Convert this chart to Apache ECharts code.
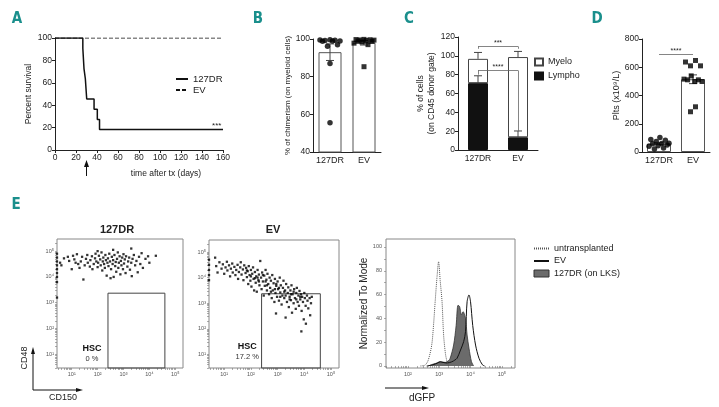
<!DOCTYPE html>
<html><head><meta charset="utf-8">
<script src="https://cdn.jsdelivr.net/npm/echarts@6/dist/echarts.min.js"></script>
<style>html,body{margin:0;padding:0;background:#fff}#c{width:719px;height:407px}</style>
</head><body><div id="c"></div>
<script>
// ---------------- DATA ----------------
// A: Kaplan-Meier survival
const survDays127DR = [0, 26.5, 27.6, 28.9, 30.2, 37.2, 40.3, 42.4, 160];
const surv127DR     = [100, 90.9, 72.7, 63.6, 45.5, 36.4, 27.3, 18.2, 18.2];
const survDaysEV    = [0, 160];
const survEV        = [100, 100];

// groups
const groups = ['127DR', 'EV'];

// B: % chimerism on myeloid cells
const chim127DR = [99.6, 99.5, 99.4, 99.2, 99.0, 98.9, 98.8, 97.0, 96.2, 87.0, 55.5];
const chimEV    = [99.8, 99.7, 99.6, 99.5, 99.4, 99.2, 99.0, 98.8, 98.4, 97.8, 97.0, 85.3];
const chimMean  = [93.0, 98.0];
const chimSem   = [4.4, 1.2];

// C: % of cells on CD45 donor gate
const lymphoMean = [71.0, 13.5];
const lymphoSem  = [7.8, 6.7];
const myeloMean  = [25.8, 85.2];
const myeloSem   = [6.8, 6.0];

// D: platelets (x10^9/L)
const plts127DR = [102, 88, 83, 75, 62, 60, 58, 50, 45, 40, 28, 22];
const pltsEV    = [648, 637, 610, 610, 539, 516, 511, 511, 499, 499, 320, 285];
const pltsMean  = [59, 515];
const pltsSem   = [7, 31];

// E: flow plots, values are log10(CD150), log10(CD48)
const flow127DR = [[0.55,4.55],[0.6,4.45],[0.7,4.72],[0.85,4.78],[0.9,4.62],[1.05,4.82],[1.1,4.68],[1.2,4.88],[1.25,4.5],[1.3,4.35],[1.35,4.6],[1.4,4.78],[1.45,3.9],[1.5,4.45],[1.55,4.7],[1.6,4.85],[1.62,4.55],[1.7,4.4],[1.72,4.65],[1.78,4.8],[1.8,4.3],[1.85,4.5],[1.9,4.72],[1.92,4.9],[1.95,4.6],[2.0,4.38],[2.02,4.55],[2.05,4.82],[2.1,4.68],[2.12,4.45],[2.15,4.95],[2.18,4.25],[2.2,4.6],[2.22,4.75],[2.25,4.5],[2.28,4.35],[2.3,4.85],[2.32,4.65],[2.35,4.05],[2.38,4.55],[2.4,4.72],[2.42,4.42],[2.45,4.9],[2.48,4.6],[2.5,3.95],[2.52,4.3],[2.55,4.78],[2.58,4.5],[2.6,4.65],[2.62,4.0],[2.65,4.85],[2.68,4.42],[2.7,4.58],[2.72,4.2],[2.75,4.7],[2.78,4.95],[2.8,4.35],[2.82,4.55],[2.85,4.8],[2.88,4.1],[2.9,4.62],[2.92,4.45],[2.95,4.75],[2.98,4.3],[3.0,4.88],[3.02,4.52],[3.05,4.68],[3.08,4.15],[3.1,4.8],[3.15,4.4],[3.18,4.6],[3.22,4.75],[3.25,4.28],[3.3,4.55],[3.32,4.03],[3.35,4.7],[3.4,4.85],[3.45,4.45],[3.5,4.62],[3.55,4.18],[3.6,4.78],[3.65,4.5],[3.7,4.92],[3.75,4.35],[3.85,4.7],[3.95,4.8],[4.0,4.55],[4.25,4.82],[1.0,4.3],[1.15,4.55],[2.0,5.0],[2.6,5.05],[3.3,5.1],[0.43,4.9],[0.43,4.75],[0.43,4.6],[0.43,4.45],[0.43,4.3],[0.43,4.15],[0.43,4.0],[0.43,3.8],[0.43,3.2]];
const flowEV = [[0.66,4.78],[0.7,4.45],[0.75,4.2],[0.82,4.6],[0.9,4.35],[0.95,4.52],[1.0,4.15],[1.05,4.4],[1.1,4.62],[1.12,4.28],[1.18,4.48],[1.22,4.05],[1.25,4.35],[1.3,4.55],[1.32,4.2],[1.38,4.42],[1.42,4.1],[1.45,4.3],[1.5,4.5],[1.52,3.95],[1.55,4.22],[1.6,4.4],[1.62,4.6],[1.65,4.12],[1.7,4.32],[1.72,3.9],[1.75,4.48],[1.8,4.18],[1.82,4.38],[1.85,4.02],[1.88,4.25],[1.9,3.75],[1.92,4.45],[1.95,4.1],[1.98,3.88],[2.0,4.3],[2.02,3.65],[2.05,4.15],[2.08,4.4],[2.1,3.95],[2.12,3.5],[2.15,4.22],[2.18,3.8],[2.2,4.05],[2.22,3.45],[2.25,4.3],[2.28,3.9],[2.3,4.12],[2.32,3.7],[2.35,4.65],[2.38,4.0],[2.4,3.55],[2.42,4.2],[2.45,3.85],[2.48,3.3],[2.5,4.08],[2.52,3.68],[2.55,4.3],[2.58,3.92],[2.6,3.5],[2.62,4.15],[2.65,3.75],[2.68,3.35],[2.7,4.0],[2.72,3.6],[2.75,3.88],[2.78,3.2],[2.8,4.1],[2.82,3.5],[2.85,3.78],[2.88,3.05],[2.9,3.95],[2.92,3.4],[2.94,2.6],[2.95,3.68],[2.98,3.25],[3.0,3.85],[3.02,3.55],[3.05,3.1],[3.08,4.0],[3.1,3.42],[3.12,3.7],[3.15,2.95],[3.18,3.3],[3.2,3.6],[3.22,3.88],[3.25,3.2],[3.28,3.5],[3.3,2.44],[3.32,3.75],[3.35,3.05],[3.38,3.4],[3.4,3.62],[3.42,2.85],[3.45,3.25],[3.48,3.5],[3.5,3.12],[3.52,3.7],[3.54,2.63],[3.56,3.35],[3.6,3.0],[3.62,3.55],[3.65,3.2],[3.68,2.78],[3.7,3.4],[3.72,3.6],[3.75,3.05],[3.78,3.3],[3.8,2.9],[3.82,3.48],[3.85,3.15],[3.88,3.35],[3.89,1.9],[3.9,2.7],[3.92,3.25],[3.95,3.05],[3.98,2.37],[4.0,3.4],[4.02,3.2],[4.05,2.9],[4.06,2.2],[4.1,3.3],[4.12,3.1],[4.15,2.8],[4.2,3.2],[4.22,2.53],[4.25,3.0],[4.28,3.25],[2.0,4.05],[2.3,3.85],[2.6,3.7],[2.9,3.55],[3.1,3.25],[3.3,3.3],[3.5,3.35],[3.7,3.15],[2.75,3.45],[3.05,3.6],[2.45,4.1],[2.15,3.98],[1.85,4.28],[3.6,3.45],[3.85,3.25],[3.45,3.15],[3.25,3.45],[2.95,3.75],[2.55,3.85],[2.25,4.0],[0.43,4.7],[0.43,4.5],[0.43,4.3],[0.43,4.1],[0.43,3.9]];
const hscGate   = [[2.4, 0.47], [4.6, 3.37]];
const hscPct    = ['0 %', '17.2 %'];

// E: dGFP histograms, [log10(dGFP), % of mode]
const histUntransplanted = [[2.4,0],[2.55,0.8],[2.65,5],[2.76,17.6],[2.82,35],[2.87,54],[2.93,75],[2.98,87.6],[3.03,72],[3.09,54],[3.14,26],[3.2,10],[3.25,3.6],[3.3,0]];
const histEV = [[2.6,0],[2.8,1],[2.95,2.5],[3.03,3.5],[3.12,3],[3.25,2.5],[3.4,3.5],[3.5,5],[3.57,6.5],[3.68,13.4],[3.78,20.4],[3.84,28.8],[3.89,54],[3.95,59.7],[4.0,54],[4.07,34],[4.16,17.6],[4.27,6.5],[4.38,1],[4.45,0]];
const hist127DR = [[2.65,0],[2.8,1.5],[2.87,2],[3.03,3.6],[3.19,3],[3.3,4.5],[3.35,6.5],[3.46,17.6],[3.54,34],[3.6,51],[3.65,50],[3.71,43],[3.76,45.6],[3.84,40],[3.89,26],[3.95,15],[4.03,3.6],[4.1,0]];

// ---------------- STYLE HELPERS ----------------
const FONT = '"Liberation Sans", Arial, Helvetica, sans-serif';
const INK = '#222';
const TEAL = '#1a8f8c';
const SUP = {1:'\u00b9',2:'\u00b2',3:'\u00b3',4:'\u2074',5:'\u2075'};

// deterministic beeswarm offsets (low-discrepancy ordering inside each cluster)
function swarm(vals, pxPerUnit, size, halfW) {
  const idx = vals.map((v, i) => i).sort((a, b) => vals[b] - vals[a]);
  const offs = new Array(vals.length).fill(0);
  let cl = [idx[0]];
  const flush = () => {
    const n = cl.length;
    const sp = n > 1 ? Math.min(size, 2 * halfW / (n - 1)) : 0;
    const pos = []; for (let k = 0; k < n; k++) pos.push((k - (n - 1) / 2) * sp);
    const keys = cl.map((_, j) => ({ j, f: (j * 0.6180339887 + 0.5) % 1 }));
    keys.sort((a, b) => a.f - b.f);
    keys.forEach((k, r) => offs[cl[k.j]] = pos[r]);
  };
  for (let k = 1; k < idx.length; k++) {
    if ((vals[idx[k - 1]] - vals[idx[k]]) * pxPerUnit < size) cl.push(idx[k]);
    else { flush(); cl = [idx[k]]; }
  }
  flush();
  return offs;
}
function dots(vals, cat, pxPerUnit, halfW) {
  const o = swarm(vals, pxPerUnit, 5, halfW);
  return vals.map((v, i) => ({ value: [cat, v], symbolOffset: [o[i], 0] }));
}
function errRender(capLow) {
  return function (params, api) {
    const c = api.value(0);
    const lo = api.coord([c, api.value(1)]);
    const hi = api.coord([c, api.value(2)]);
    const w = 4;
    const style = { stroke: '#444', lineWidth: 1 };
    const ch = [
      { type: 'line', shape: { x1: lo[0], y1: lo[1], x2: hi[0], y2: hi[1] }, style },
      { type: 'line', shape: { x1: hi[0] - w, y1: hi[1], x2: hi[0] + w, y2: hi[1] }, style }
    ];
    if (capLow) ch.push({ type: 'line', shape: { x1: lo[0] - w, y1: lo[1], x2: lo[0] + w, y2: lo[1] }, style });
    return { type: 'group', children: ch };
  };
}
function logTicks(min, max) {
  const t = [];
  for (let n = Math.floor(min); n <= Math.ceil(max); n++)
    for (let k = 1; k <= 9; k++) { const v = n + Math.log10(k); if (v >= min && v <= max) t.push(+v.toFixed(4)); }
  return t;
}
const lbl = { fontSize: 8.5, color: INK, fontFamily: FONT, margin: 3 };
const axLine = { show: true, lineStyle: { color: '#222', width: 1 } };
const axTick = { show: true, length: 3, lineStyle: { color: '#222', width: 1 } };
function valAxis(gi, min, max, interval, extra) {
  return Object.assign({ type: 'value', gridIndex: gi, min, max, interval, axisLine: axLine, axisTick: axTick,
    axisLabel: lbl, splitLine: { show: false } }, extra || {});
}
function catAxis(gi, fs) {
  return { type: 'category', gridIndex: gi, data: groups, axisLine: axLine, axisTick: { show: false },
    axisLabel: Object.assign({}, lbl, { fontSize: fs, margin: 4, interval: 0 }) };
}
function flowAxis(gi, dim, min, max, labels) {
  return { type: 'value', gridIndex: gi, min, max, axisLine: { show: false }, splitLine: { show: false },
    axisTick: { show: true, customValues: logTicks(min, max), length: 2, lineStyle: { color: '#777', width: 0.6 } },
    axisLabel: { customValues: labels, formatter: v => '10' + SUP[Math.round(v)], fontSize: 5.5, color: '#555', fontFamily: FONT, margin: 3 } };
}
const nameStyle = (fs) => ({ fontSize: fs, color: INK, fontFamily: FONT });

const flowRange = { x: [0.43, 5.3], y: [0.47, 5.47] };

// ---------------- OPTION ----------------
const option = {
  animation: false,
  textStyle: { fontFamily: FONT },
  grid: [
    { left: 55, top: 38, width: 168, height: 112 },
    { left: 313, top: 39, width: 68, height: 113 },
    { left: 458, top: 37, width: 80, height: 113 },
    { left: 642, top: 39, width: 68, height: 113 },
    { left: 57, top: 239, width: 126, height: 129, show: true, borderColor: '#888', borderWidth: 1 },
    { left: 209, top: 240, width: 130, height: 128, show: true, borderColor: '#888', borderWidth: 1 },
    { left: 386, top: 239, width: 129, height: 129, show: true, borderColor: '#888', borderWidth: 1 }
  ],
  xAxis: [
    valAxis(0, 0, 160, 20, { name: 'time after tx (days)', nameLocation: 'middle', nameGap: 19,
      nameTextStyle: Object.assign(nameStyle(8.5), { padding: [0, 0, 0, 54] }) }),
    catAxis(1, 9),
    catAxis(2, 8.5),
    catAxis(3, 9),
    flowAxis(4, 'x', flowRange.x[0], flowRange.x[1], [1, 2, 3, 4, 5]),
    flowAxis(5, 'x', flowRange.x[0], flowRange.x[1], [1, 2, 3, 4, 5]),
    flowAxis(6, 'x', 1.3, 5.42, [2, 3, 4, 5])
  ],
  yAxis: [
    valAxis(0, 0, 100, 20, { name: 'Percent survival', nameLocation: 'middle', nameRotate: 90, nameGap: 22, nameTextStyle: nameStyle(8.5) }),
    valAxis(1, 40, 100, 20, { name: '% of chimerism (on myeloid cells)', nameLocation: 'middle', nameRotate: 90, nameGap: 21, nameTextStyle: nameStyle(8) }),
    valAxis(2, 0, 120, 20, { name: '% of cells\n(on CD45 donor gate)', nameLocation: 'middle', nameRotate: 90, nameGap: 21, nameTextStyle: Object.assign(nameStyle(8.5), { lineHeight: 11 }) }),
    valAxis(3, 0, 800, 200, { name: 'Plts (x10\u2079/L)', nameLocation: 'middle', nameRotate: 90, nameGap: 20, nameTextStyle: nameStyle(9) }),
    flowAxis(4, 'y', flowRange.y[0], flowRange.y[1], [1, 2, 3, 4, 5]),
    flowAxis(5, 'y', flowRange.y[0], flowRange.y[1], [1, 2, 3, 4, 5]),
    { type: 'value', gridIndex: 6, min: -1.7, max: 106.7, axisLine: { show: false }, splitLine: { show: false },
      axisTick: { show: true, customValues: [0,10,20,30,40,50,60,70,80,90,100], length: 2, lineStyle: { color: '#777', width: 0.6 } },
      axisLabel: { customValues: [0, 20, 40, 60, 80, 100], fontSize: 5.5, color: '#555', fontFamily: FONT, margin: 4 },
      name: 'Normalized To Mode', nameLocation: 'middle', nameRotate: 90, nameGap: 17, nameTextStyle: nameStyle(10) }
  ],
  legend: [
    { left: 170, top: 69, orient: 'vertical', itemWidth: 12, itemHeight: 8, itemGap: 1, itemStyle: { opacity: 0 },
      textStyle: { fontSize: 9.5, color: INK, fontFamily: FONT, lineHeight: 10 }, data: ['127DR', 'EV'] },
    { left: 529, top: 52, orient: 'vertical', itemWidth: 8, itemHeight: 7, itemGap: 4,
      textStyle: { fontSize: 9, color: INK, fontFamily: FONT, lineHeight: 10 },
      data: [{ name: 'Myelo', icon: 'rect' }, { name: 'Lympho', icon: 'rect' }] },
    { left: 528, top: 238, orient: 'vertical', itemWidth: 15, itemHeight: 7, itemGap: 1.5, itemStyle: { opacity: 0 },
      textStyle: { fontSize: 9, color: INK, fontFamily: FONT, lineHeight: 11 },
      data: ['untransplanted', 'EV ', { name: '127DR (on LKS)', icon: 'rect',
        itemStyle: { opacity: 1, color: '#6b6b6b', borderColor: '#333', borderWidth: 1 } }] }
  ],
  series: [
    // ---- A ----
    { type: 'line', name: '127DR', xAxisIndex: 0, yAxisIndex: 0, step: 'end', symbol: 'none',
      data: survDays127DR.map((d, i) => [d, surv127DR[i]]), lineStyle: { color: '#111', width: 1.5 }, itemStyle: { color: '#111' }, z: 3,
      markPoint: { symbol: 'circle', symbolSize: 0, silent: true,
        data: [{ coord: [154, 18.2], label: { show: true, formatter: '***', position: 'top', distance: 0, fontSize: 8, color: INK } }] } },
    { type: 'line', name: 'EV', xAxisIndex: 0, yAxisIndex: 0, symbol: 'none',
      data: survDaysEV.map((d, i) => [d, survEV[i]]), lineStyle: { color: '#111', width: 1.2, type: [4, 2] }, itemStyle: { color: '#111' }, z: 2 },
    // ---- B ----
    { type: 'bar', name: 'B mean', xAxisIndex: 1, yAxisIndex: 1, barWidth: 23, data: chimMean,
      itemStyle: { color: '#fff', borderColor: '#555', borderWidth: 1 } },
    { type: 'custom', name: 'B sem', xAxisIndex: 1, yAxisIndex: 1, renderItem: errRender(true), z: 4,
      data: chimMean.map((m, i) => [i, m - chimSem[i], m + chimSem[i]]) },
    { type: 'scatter', name: 'B 127DR', xAxisIndex: 1, yAxisIndex: 1, symbol: 'circle', symbolSize: 5.5, z: 5,
      itemStyle: { color: '#000' }, data: dots(chim127DR, 0, 113 / 60, 10) },
    { type: 'scatter', name: 'B EV', xAxisIndex: 1, yAxisIndex: 1, symbol: 'rect', symbolSize: 5, z: 5,
      itemStyle: { color: '#000' }, data: dots(chimEV, 1, 113 / 60, 10) },
    // ---- C ----
    { type: 'bar', name: 'Lympho', xAxisIndex: 2, yAxisIndex: 2, stack: 'c', barWidth: 20, data: lymphoMean,
      itemStyle: { color: '#111', borderColor: '#111', borderWidth: 1 } },
    { type: 'bar', name: 'Myelo', xAxisIndex: 2, yAxisIndex: 2, stack: 'c', barWidth: 20, data: myeloMean,
      itemStyle: { color: '#fff', borderColor: '#444', borderWidth: 1 },
      markLine: { symbol: 'none', silent: true, lineStyle: { color: '#666', width: 0.8, type: 'solid' }, label: { show: false },
        data: [
          [{ coord: ['127DR', 110], label: { show: true, formatter: '***', position: 'insideMiddleTop', distance: 0, fontSize: 7, color: INK } }, { coord: ['EV', 110] }],
          [{ coord: ['127DR', 110] }, { coord: ['127DR', 107.5] }],
          [{ coord: ['EV', 110] }, { coord: ['EV', 107.5] }],
          [{ coord: ['127DR', 84.5], label: { show: true, formatter: '****', position: 'insideMiddleTop', distance: 0, fontSize: 7, color: INK } }, { coord: ['EV', 84.5] }],
          [{ coord: ['127DR', 84.5] }, { coord: ['127DR', 80] }],
          [{ coord: ['EV', 84.5] }, { coord: ['EV', lymphoMean[1] + lymphoSem[1]] }]
        ] } },
    { type: 'custom', name: 'C sem', xAxisIndex: 2, yAxisIndex: 2, renderItem: errRender(false), z: 4,
      data: lymphoMean.map((m, i) => [i, m, m + lymphoSem[i]])
        .concat(myeloMean.map((m, i) => [i, m + lymphoMean[i], m + lymphoMean[i] + myeloSem[i]])) },
    // ---- D ----
    { type: 'bar', name: 'D mean', xAxisIndex: 3, yAxisIndex: 3, barWidth: 24, data: pltsMean,
      itemStyle: { color: '#fff', borderColor: '#555', borderWidth: 1 },
      markLine: { symbol: 'none', silent: true, lineStyle: { color: '#666', width: 0.8, type: 'solid' },
        data: [[{ coord: ['127DR', 690], label: { show: true, formatter: '****', position: 'insideMiddleTop', distance: 0, fontSize: 7, color: INK } }, { coord: ['EV', 690] }]] } },
    { type: 'custom', name: 'D sem', xAxisIndex: 3, yAxisIndex: 3, renderItem: errRender(true), z: 4,
      data: pltsMean.map((m, i) => [i, m - pltsSem[i], m + pltsSem[i]]) },
    { type: 'scatter', name: 'D 127DR', xAxisIndex: 3, yAxisIndex: 3, symbol: 'circle', symbolSize: 5.5, z: 5,
      itemStyle: { color: '#000' }, data: dots(plts127DR, 0, 113 / 800, 10) },
    { type: 'scatter', name: 'D EV', xAxisIndex: 3, yAxisIndex: 3, symbol: 'rect', symbolSize: 5, z: 5,
      itemStyle: { color: '#000' }, data: dots(pltsEV, 1, 113 / 800, 9) },
    // ---- E flow ----
    { type: 'scatter', name: 'flow 127DR', xAxisIndex: 4, yAxisIndex: 4, symbol: 'rect', symbolSize: 2.3,
      itemStyle: { color: '#000' }, data: flow127DR,
      markArea: { silent: true, itemStyle: { color: 'rgba(0,0,0,0)', borderColor: '#444', borderWidth: 1 },
        data: [[{ coord: hscGate[0] }, { coord: hscGate[1] }]] },
      markPoint: { symbol: 'circle', symbolSize: 0, silent: true,
        data: [{ coord: [1.78, 1.05], label: { show: true, position: 'inside', formatter: '{a|HSC}\n{b|' + hscPct[0] + '}',
          rich: { a: { fontSize: 9, fontWeight: 'bold', color: '#111', lineHeight: 11 }, b: { fontSize: 7.5, color: '#333', lineHeight: 10 } } } }] } },
    { type: 'scatter', name: 'flow EV', xAxisIndex: 5, yAxisIndex: 5, symbol: 'rect', symbolSize: 2.3,
      itemStyle: { color: '#000' }, data: flowEV,
      markArea: { silent: true, itemStyle: { color: 'rgba(0,0,0,0)', borderColor: '#444', borderWidth: 1 },
        data: [[{ coord: hscGate[0] }, { coord: hscGate[1] }]] },
      markPoint: { symbol: 'circle', symbolSize: 0, silent: true,
        data: [{ coord: [1.86, 1.1], label: { show: true, position: 'inside', formatter: '{a|HSC}\n{b|' + hscPct[1] + '}',
          rich: { a: { fontSize: 9, fontWeight: 'bold', color: '#111', lineHeight: 11 }, b: { fontSize: 7.5, color: '#333', lineHeight: 10 } } } }] } },
    // ---- E histograms ----
    { type: 'line', name: '127DR (on LKS)', xAxisIndex: 6, yAxisIndex: 6, data: hist127DR, smooth: 0.3, symbol: 'none',
      lineStyle: { color: '#333', width: 0.8 }, areaStyle: { color: '#6b6b6b', opacity: 1 }, itemStyle: { color: '#6b6b6b', borderColor: '#333' } },
    { type: 'line', name: 'EV ', xAxisIndex: 6, yAxisIndex: 6, data: histEV, smooth: 0.3, symbol: 'none',
      lineStyle: { color: '#111', width: 1 }, itemStyle: { color: '#111' } },
    { type: 'line', name: 'untransplanted', xAxisIndex: 6, yAxisIndex: 6, data: histUntransplanted, smooth: 0.3, symbol: 'none',
      lineStyle: { color: '#555', width: 1, type: [1, 1] }, itemStyle: { color: '#555' } }
  ]
};

const chart = echarts.init(document.getElementById('c'), null, { renderer: 'canvas' });
chart.setOption(option);

// ---------------- ANNOTATIONS ----------------
const letter = (t, x, y) => ({ type: 'text', x, y, style: { text: t, fill: TEAL, textAlign: 'center', textVerticalAlign: 'middle',
  font: 'bold 15px "Liberation Sans Narrow", "DejaVu Sans Condensed", "Liberation Sans", sans-serif' } });
const txt = (t, x, y, font, rot) => ({ type: 'text', x, y, rotation: rot || 0, style: { text: t, fill: INK, textAlign: 'center', textVerticalAlign: 'middle', font } });
const seg = (x1, y1, x2, y2) => ({ type: 'line', shape: { x1, y1, x2, y2 }, style: { stroke: '#111', lineWidth: 1 } });
const tri = (pts) => ({ type: 'polygon', shape: { points: pts }, style: { fill: '#111' } });

const aPt = chart.convertToPixel({ gridIndex: 0 }, [30, 0]);
const ax = aPt[0], ay = aPt[1];

chart.setOption({ graphic: [
  letter('A', 17, 19), letter('B', 258, 19), letter('C', 409, 19), letter('D', 597, 19), letter('E', 16, 205),
  // arrow under panel A at day 30
  seg(ax, ay + 16, ax, ay + 26), tri([[ax, ay + 10], [ax - 2.5, ay + 17], [ax + 2.5, ay + 17]]),
  // flow plot titles
  txt('127DR', 117, 230, 'bold 11px "Liberation Sans", Arial, sans-serif'),
  txt('EV', 273, 230, 'bold 11px "Liberation Sans", Arial, sans-serif'),
  // CD48 / CD150 axis arrows
  seg(33, 390, 33, 353), tri([[33, 347], [31, 354], [35, 354]]),
  seg(33, 390, 77, 390), tri([[83, 390], [76, 388], [76, 392]]),
  txt('CD48', 25, 358, '9px "Liberation Sans", Arial, sans-serif', Math.PI / 2),
  txt('CD150', 63, 398, '9px "Liberation Sans", Arial, sans-serif'),
  // dGFP arrow
  seg(385, 388, 423, 388), tri([[429, 388], [422, 386], [422, 390]]),
  txt('dGFP', 422, 398, '10px "Liberation Sans", Arial, sans-serif')
] });
</script>
</body></html>
